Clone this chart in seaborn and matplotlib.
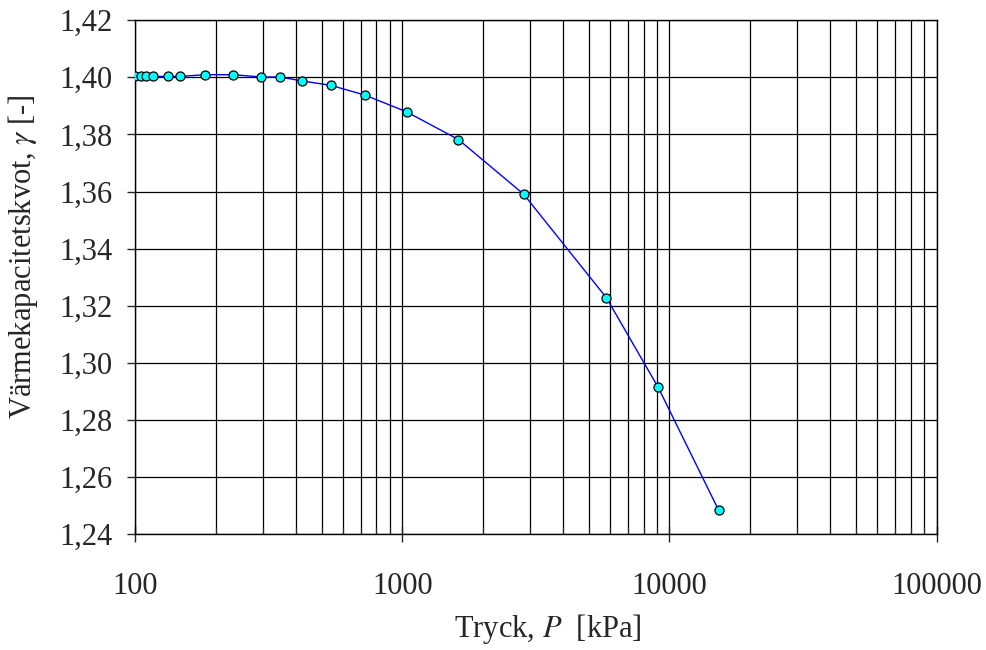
import numpy as np
import pandas as pd
import seaborn as sns
import matplotlib
matplotlib.use("Agg")
import matplotlib.pyplot as plt
from matplotlib.ticker import LogLocator, FuncFormatter, NullFormatter

# data
tryck = [100, 105, 110, 117, 133, 147, 183, 233, 296, 349, 423, 539, 723,
         1038, 1622, 2844, 5808, 9077, 15280]
gamma = [1.4003, 1.4003, 1.4003, 1.4003, 1.4003, 1.4003, 1.4009, 1.4009,
         1.4001, 1.4001, 1.3987, 1.3972, 1.3938, 1.3879, 1.3782, 1.3591,
         1.3228, 1.2914, 1.2484]
x_ticks = [100, 1000, 10000, 100000]
y_ticks = [1.24, 1.26, 1.28, 1.30, 1.32, 1.34, 1.36, 1.38, 1.40, 1.42]

df = pd.DataFrame({"P": tryck, "gamma": gamma})

sns.set_style("white")
plt.rcParams["font.family"] = ["Liberation Serif", "DejaVu Serif"]
plt.rcParams["mathtext.fontset"] = "stix"

fig = plt.figure(figsize=(9.86, 6.5), dpi=100)
ax = fig.add_axes([0.137, 0.178, 0.813, 0.791])

sns.lineplot(data=df, x="P", y="gamma", ax=ax, color="#0000FF", linewidth=1,
             marker="o", markersize=6.5, markerfacecolor="#00FFFF",
             markeredgecolor="black", markeredgewidth=0.9, zorder=3)

ax.set_xscale("log")
ax.set_xlim(100, 100000)
ax.set_ylim(1.24, 1.42)
ax.set_xticks(x_ticks)
ax.set_xticklabels([str(v) for v in x_ticks])
ax.xaxis.set_minor_locator(LogLocator(base=10, subs=np.arange(2, 10)))
ax.xaxis.set_minor_formatter(NullFormatter())
ax.set_yticks(y_ticks)
ax.yaxis.set_major_formatter(FuncFormatter(lambda v, p: f"{v:.2f}".replace(".", ",")))

ax.grid(which="major", axis="both", color="black", linewidth=0.9)
ax.grid(which="minor", axis="x", color="black", linewidth=0.9)

for s in ax.spines.values():
    s.set_color("black")
    s.set_linewidth(1)

ax.tick_params(axis="y", which="major", direction="out", length=6, width=1,
               labelsize=22, pad=10, left=True)
ax.tick_params(axis="x", which="major", direction="inout", length=12, width=1,
               labelsize=22, pad=21, bottom=True)
ax.tick_params(axis="x", which="minor", direction="in", length=5, width=0.8,
               bottom=True)

ax.set_xlabel("Tryck, $P$  [kPa]", fontsize=22)
ax.set_ylabel(r"Värmekapacitetskvot, $\gamma$ [-]", fontsize=22)
ax.xaxis.label.set_va("center")
ax.xaxis.set_label_coords(0.515, -0.185)
ax.yaxis.label.set_va("center")
ax.yaxis.set_label_coords(-0.14, 0.54)

fig.savefig("out.png", dpi=100)
